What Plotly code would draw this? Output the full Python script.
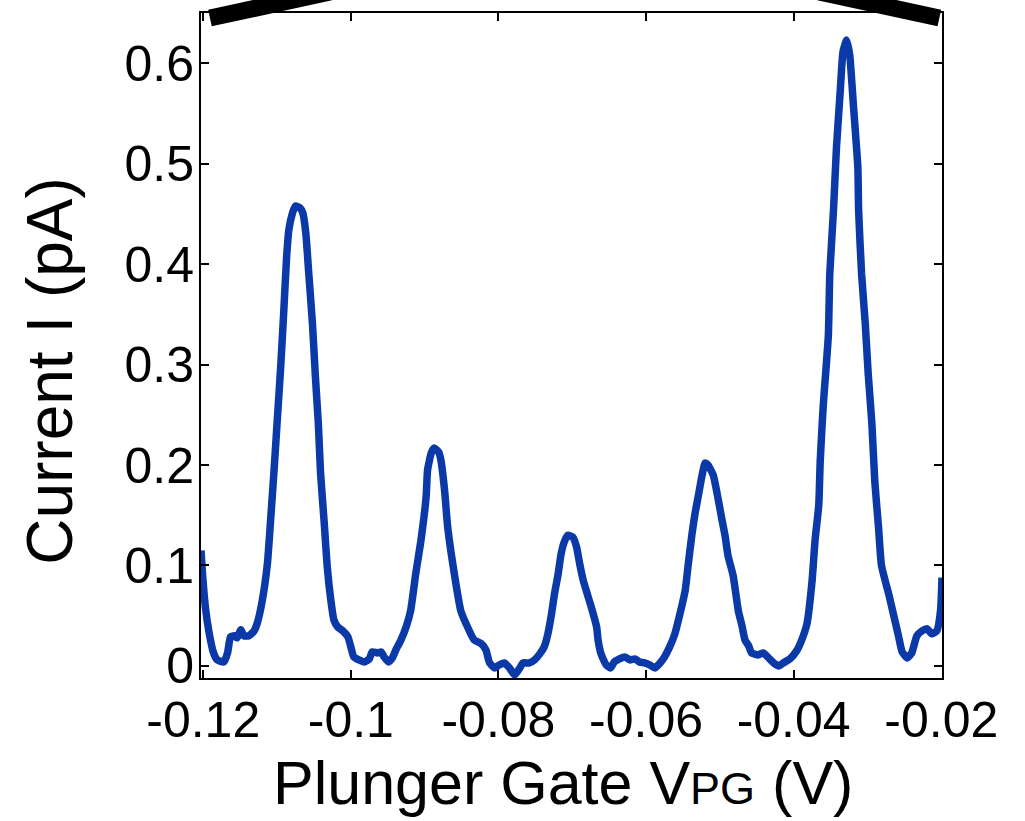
import plotly.graph_objects as go

# Coulomb-blockade oscillations: current vs plunger gate voltage
gate_voltage = [
    -0.1203, -0.1201, -0.1197, -0.1192, -0.1186, -0.1181, -0.1172, -0.1167, -0.1163, -0.1158,
    -0.1154, -0.1149, -0.1145, -0.1138, -0.1131, -0.1127, -0.1120, -0.1113, -0.1109, -0.1104,
    -0.1100, -0.1095, -0.1091, -0.1087, -0.1084, -0.1079, -0.1075, -0.1069, -0.1065, -0.1061,
    -0.1057, -0.1052, -0.1048, -0.1044, -0.1041, -0.1036, -0.1032, -0.1027, -0.1023, -0.1018,
    -0.1011, -0.1004, -0.1000, -0.0996, -0.0989, -0.0982, -0.0975, -0.0971, -0.0964, -0.0959,
    -0.0955, -0.0949, -0.0943, -0.0939, -0.0932, -0.0925, -0.0919, -0.0912, -0.0905, -0.0898,
    -0.0896, -0.0891, -0.0887, -0.0881, -0.0878, -0.0873, -0.0869, -0.0864, -0.0857, -0.0851,
    -0.0842, -0.0833, -0.0823, -0.0817, -0.0812, -0.0805, -0.0799, -0.0792, -0.0785, -0.0778,
    -0.0771, -0.0767, -0.0758, -0.0751, -0.0744, -0.0738, -0.0733, -0.0728, -0.0724, -0.0719,
    -0.0715, -0.0710, -0.0706, -0.0699, -0.0694, -0.0690, -0.0685, -0.0681, -0.0674, -0.0667,
    -0.0665, -0.0661, -0.0654, -0.0648, -0.0643, -0.0636, -0.0629, -0.0622, -0.0615, -0.0609,
    -0.0602, -0.0595, -0.0588, -0.0581, -0.0575, -0.0568, -0.0561, -0.0554, -0.0547, -0.0543,
    -0.0538, -0.0534, -0.0529, -0.0524, -0.0520, -0.0516, -0.0509, -0.0502, -0.0497, -0.0493,
    -0.0489, -0.0482, -0.0475, -0.0470, -0.0466, -0.0461, -0.0457, -0.0448, -0.0441, -0.0434,
    -0.0427, -0.0420, -0.0414, -0.0405, -0.0396, -0.0389, -0.0382, -0.0375, -0.0371, -0.0366,
    -0.0364, -0.0360, -0.0353, -0.0351, -0.0346, -0.0342, -0.0337, -0.0333, -0.0328, -0.0324,
    -0.0319, -0.0313, -0.0312, -0.0308, -0.0303, -0.0299, -0.0294, -0.0290, -0.0285, -0.0281,
    -0.0271, -0.0265, -0.0258, -0.0253, -0.0246, -0.0240, -0.0233, -0.0226, -0.0219, -0.0213,
    -0.0206, -0.0201, -0.0199,
]

current_pa = [
    0.115, 0.092, 0.058, 0.033, 0.013, 0.006, 0.004, 0.013, 0.029, 0.030,
    0.028, 0.036, 0.030, 0.030, 0.035, 0.042, 0.065, 0.102, 0.142, 0.195,
    0.241, 0.298, 0.351, 0.407, 0.434, 0.451, 0.458, 0.456, 0.451, 0.431,
    0.391, 0.341, 0.288, 0.241, 0.192, 0.142, 0.099, 0.065, 0.046, 0.039,
    0.035, 0.029, 0.019, 0.009, 0.006, 0.004, 0.007, 0.014, 0.013, 0.014,
    0.009, 0.004, 0.009, 0.016, 0.026, 0.039, 0.055, 0.092, 0.125, 0.168,
    0.195, 0.212, 0.217, 0.213, 0.205, 0.175, 0.140, 0.112, 0.079, 0.055,
    0.039, 0.026, 0.022, 0.016, 0.003, -0.002, 0.001, 0.003, -0.002, -0.009,
    -0.002, 0.003, 0.003, 0.006, 0.012, 0.019, 0.032, 0.052, 0.072, 0.092,
    0.112, 0.125, 0.130, 0.128, 0.118, 0.102, 0.085, 0.075, 0.058, 0.039,
    0.026, 0.012, 0.001, -0.002, 0.004, 0.007, 0.009, 0.006, 0.007, 0.004,
    0.003, 0.001, -0.002, 0.003, 0.009, 0.019, 0.032, 0.052, 0.075, 0.100,
    0.130, 0.150, 0.170, 0.190, 0.202, 0.200, 0.190, 0.165, 0.145, 0.130,
    0.110, 0.090, 0.055, 0.040, 0.026, 0.020, 0.013, 0.011, 0.013, 0.008,
    0.003, 0.000, 0.003, 0.007, 0.015, 0.026, 0.042, 0.085, 0.125, 0.160,
    0.204, 0.258, 0.329, 0.391, 0.454, 0.516, 0.571, 0.612, 0.623, 0.608,
    0.558, 0.496, 0.454, 0.391, 0.341, 0.291, 0.241, 0.183, 0.138, 0.100,
    0.071, 0.052, 0.030, 0.014, 0.008, 0.013, 0.030, 0.035, 0.037, 0.032,
    0.035, 0.055, 0.088,
]

x_ticks = [-0.12, -0.10, -0.08, -0.06, -0.04, -0.02]
x_tick_labels = ["-0.12", "-0.1", "-0.08", "-0.06", "-0.04", "-0.02"]
y_ticks = [0, 0.1, 0.2, 0.3, 0.4, 0.5, 0.6]
y_tick_labels = ["0", "0.1", "0.2", "0.3", "0.4", "0.5", "0.6"]

FONT = "Liberation Sans, Arial, Helvetica, sans-serif"
LINE_BLUE = "#0b3aa8"

fig = go.Figure()
fig.add_trace(go.Scatter(
    x=gate_voltage, y=current_pa, mode="lines",
    line=dict(color=LINE_BLUE, width=7.5, shape="spline", smoothing=0.5),
    showlegend=False, hoverinfo="x+y",
))

axis_common = dict(
    showgrid=False, zeroline=False,
    showline=True, linecolor="black", linewidth=2, mirror="ticks",
    ticks="inside", ticklen=8, tickwidth=1.5, tickcolor="black",
    tickfont=dict(family=FONT, size=50, color="black"),
)

fig.update_xaxes(range=[-0.1203, -0.0199], tickvals=x_ticks, ticktext=x_tick_labels,
                 ticklabelstandoff=-3, **axis_common)
fig.update_yaxes(range=[-0.012, 0.65], tickvals=y_ticks, ticktext=y_tick_labels,
                 ticklabelstandoff=-5, **axis_common)

# axis titles
fig.add_annotation(
    xref="paper", yref="paper", x=0.4885, y=-0.158, xanchor="center", yanchor="middle",
    text="Plunger Gate V<span style='font-size:45px'>PG</span> (V)",
    showarrow=False, font=dict(family=FONT, size=61, color="black"),
)
fig.add_annotation(
    xref="paper", yref="paper", x=-0.2040, y=0.4617, xanchor="center", yanchor="middle",
    text="Current I (pA)", textangle=-90,
    showarrow=False, font=dict(family=FONT, size=64, color="black"),
)

# thick black bars along the top edge
fig.add_shape(type="line", xref="paper", yref="paper",
              x0=0.0121, y0=0.9925, x1=0.1745, y1=1.0316,
              line=dict(color="black", width=17))
fig.add_shape(type="line", xref="paper", yref="paper",
              x0=0.9964, y0=0.9925, x1=0.8340, y1=1.0316,
              line=dict(color="black", width=17))

fig.update_layout(
    width=1025, height=821,
    margin=dict(l=201, r=83, t=13, b=143),
    paper_bgcolor="white", plot_bgcolor="white",
    font=dict(family=FONT, color="black"),
)

fig.write_html("out.html")
